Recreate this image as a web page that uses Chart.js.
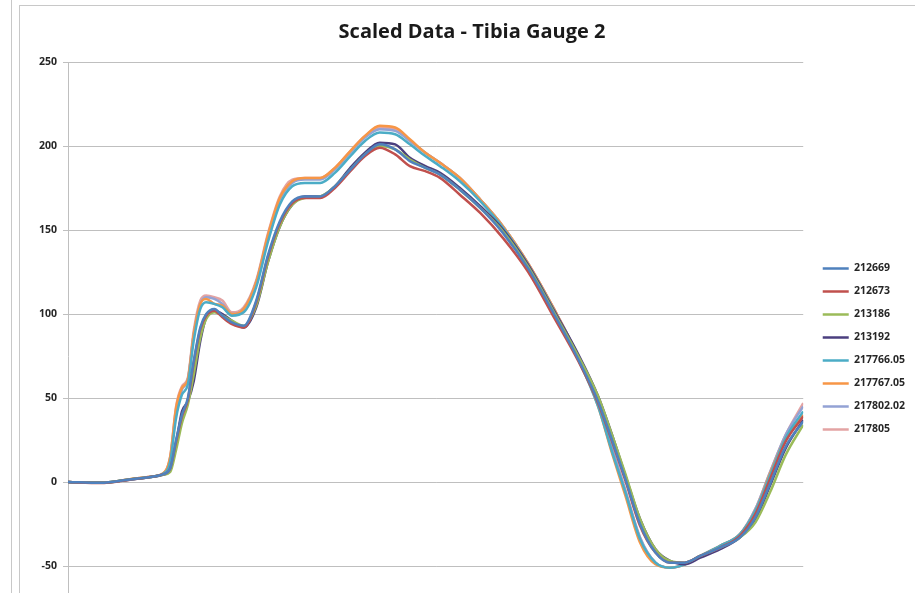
<!DOCTYPE html>
<html>
<head>
<meta charset="utf-8">
<script src="https://cdn.jsdelivr.net/npm/chart.js@4/dist/chart.umd.min.js"></script>
<style>
  html, body { margin: 0; padding: 0; background: #fff; width: 915px; height: 593px; overflow: hidden; }
  #sheetLine { position: absolute; left: 11px; top: 0; width: 1px; height: 593px; background: #c8c8c8; }
  #box { position: absolute; left: 19px; top: 5px; width: 896px; height: 660px; border-left: 1px solid #c8c8c8; border-top: 1px solid #c8c8c8; }
  #box canvas { position: absolute; left: 0; top: 0; }
</style>
</head>
<body>
<div id="sheetLine"></div>
<div id="box"><canvas id="chartTibia" width="896" height="660"></canvas></div>
<script>
  // Sample positions (0..100 across the trace)
  const xs = [0.0, 4.4, 8.4, 11.2, 12.9, 13.9, 14.7, 15.5, 16.3, 17.1,
    18.0, 18.8, 19.9, 21.0, 22.3, 23.9, 25.6, 27.2, 28.8, 30.5,
    32.2, 34.3, 36.3, 38.4, 40.4, 42.4, 44.5, 46.5, 48.6, 50.6,
    53.3, 56.1, 59.2, 62.6, 66.1, 69.4, 72.1, 74.0, 75.8, 77.8,
    79.9, 81.9, 83.9, 86.0, 88.7, 91.4, 93.5, 95.5, 97.6, 100.0];

  const yTicks = [-50, 0, 50, 100, 150, 200, 250];

  const s212669 = [0, -0.5, 1.5, 3, 4.5, 8, 25, 40, 50, 72,
    92, 100, 103, 99, 95, 93, 108, 135, 155, 167,
    170, 170, 176, 186, 195, 201, 198, 191, 187, 183,
    174, 163, 148, 127, 100, 73, 48, 25, 2, -25,
    -42, -48, -48, -44, -39, -33, -21, -1, 21, 36];
  const s212673 = [0, -0.6, 1.4, 3, 4.5, 8, 24, 39, 49, 71,
    91, 99, 102, 98, 94, 92, 107, 134, 154, 166,
    169, 169, 175, 185, 194, 199, 195, 188, 185, 181,
    171, 160, 145, 125, 98, 72, 47, 24, 1, -26,
    -42, -48, -48, -44, -39, -32, -19, 2, 24, 39];
  const s213186 = [0, -0.5, 1.5, 3, 4.3, 6, 19, 35, 46, 64,
    86, 97, 101, 99, 96, 93, 105, 131, 152, 165,
    169, 170, 176, 186, 195, 200, 198, 192, 187, 183,
    174, 163, 149, 128, 101, 75, 51, 28, 5, -22,
    -40, -47, -48, -44, -39, -33, -24, -6, 16, 34];
  const s213192 = [0, -0.5, 1.4, 2.9, 4.3, 7, 23, 42, 48, 60,
    84, 98, 102, 100, 96, 92, 104, 131, 152, 165,
    170, 170, 176, 187, 196, 202, 201, 193, 188, 184,
    175, 164, 150, 129, 102, 76, 51, 28, 4, -22,
    -40, -47, -49, -45, -40, -33, -22, -2, 20, 37];
  const s217766 = [0, -0.5, 1.5, 3, 4.8, 12, 38, 52, 58, 84,
    103, 107, 106, 104, 99, 101, 116, 143, 165, 176,
    178, 178, 184, 194, 203, 208, 207, 201, 194, 188,
    179, 167, 151, 129, 102, 73, 45, 18, -6, -34,
    -48, -51, -49, -44, -38, -31, -17, 4, 26, 42];
  const s217767 = [0, -0.5, 1.6, 3.1, 5, 15, 44, 56, 61, 88,
    106, 109, 106, 105, 100, 103, 119, 147, 169, 179,
    181, 181, 187, 197, 206, 212, 211, 204, 196, 190,
    181, 168, 152, 130, 103, 74, 45, 17, -8, -36,
    -49, -51, -49, -44, -38, -31, -17, 5, 26, 40];
  const s217802 = [0, -0.5, 1.5, 3, 4.9, 14, 42, 55, 61, 88,
    106, 110, 109, 106, 100, 103, 119, 146, 168, 178,
    180, 180, 186, 196, 205, 210, 209, 203, 196, 190,
    181, 168, 152, 130, 103, 75, 47, 20, -5, -33,
    -48, -51, -49, -44, -38, -31, -16, 6, 28, 45];
  const s217805 = [0, -0.5, 1.6, 3.1, 5, 15, 45, 57, 62, 90,
    108, 111, 110, 108, 101, 104, 120, 148, 170, 180,
    181, 181, 187, 197, 206, 211, 210, 203, 196, 190,
    181, 168, 152, 130, 103, 75, 47, 20, -5, -33,
    -48, -51, -49, -44, -38, -31, -16, 6, 28, 47];

  const seriesNames = ['212669', '212673', '213186', '213192', '217766.05', '217767.05', '217802.02', '217805'];
  const seriesValues = [s212669, s212673, s213186, s213192, s217766, s217767, s217802, s217805];
  const seriesColors = ['#4f81bd', '#c0504d', '#9bbb59', '#4b3f7f', '#4bacc6', '#f79646', '#93a2d4', '#e3a3a3'];

  // Y axis box width is fixed so the plot starts where the original does
  function fixAxisWidth(scale) {
    scale.width = 48;
  }

  // nudge legend and title a bit, like the Excel original
  const layoutNudge = {
    id: 'layoutNudge',
    afterLayout(chart) {
      const lg = chart.legend;
      if (lg) {
        lg.top += 21;
        lg.bottom += 21;
        lg.left += 7;
        lg.right += 7;
      }
      const tb = chart.titleBlock;
      if (tb) {
        tb.left += 8;
        tb.right += 8;
      }
    },
  };

  const datasets = seriesNames.map(function (name, i) {
    return {
      label: name,
      data: xs.map(function (x, j) { return { x: x, y: seriesValues[i][j] }; }),
      borderColor: seriesColors[i],
      backgroundColor: seriesColors[i],
      borderWidth: 2.5,
      pointRadius: 0,
      cubicInterpolationMode: 'monotone',
      fill: false,
    };
  });

  new Chart(document.getElementById('chartTibia'), {
    type: 'line',
    data: { datasets: datasets },
    plugins: [layoutNudge],
    options: {
      responsive: false,
      animation: false,
      layout: { padding: { top: 0, right: 8, bottom: 16, left: 0 } },
      plugins: {
        title: {
          display: true,
          text: 'Scaled Data - Tibia Gauge 2',
          color: '#1a1a1a',
          font: { family: 'Open Sans', size: 20, weight: 'bold' },
          padding: { top: 14, bottom: 18 },
        },
        legend: {
          position: 'right',
          align: 'center',
          labels: {
            usePointStyle: true,
            pointStyle: 'line',
            pointStyleWidth: 26,
            color: '#262626',
            font: { family: 'Open Sans', size: 10.5, weight: 'bold' },
            padding: 12.5,
          },
        },
        tooltip: { enabled: false },
      },
      scales: {
        x: { type: 'linear', min: 0, max: 100, display: false },
        y: {
          min: -100,
          max: 250,
          afterFit: fixAxisWidth,
          border: { color: '#bfbfbf', width: 1 },
          grid: { color: '#bfbfbf', tickLength: 5, lineWidth: 1 },
          ticks: {
            stepSize: 50,
            padding: 6,
            color: '#262626',
            font: { family: 'Open Sans', size: 10.5, weight: 'bold' },
            callback: function (v) { return yTicks.indexOf(v) >= 0 ? v : ''; },
          },
        },
      },
    },
  });
</script>
</body>
</html>
